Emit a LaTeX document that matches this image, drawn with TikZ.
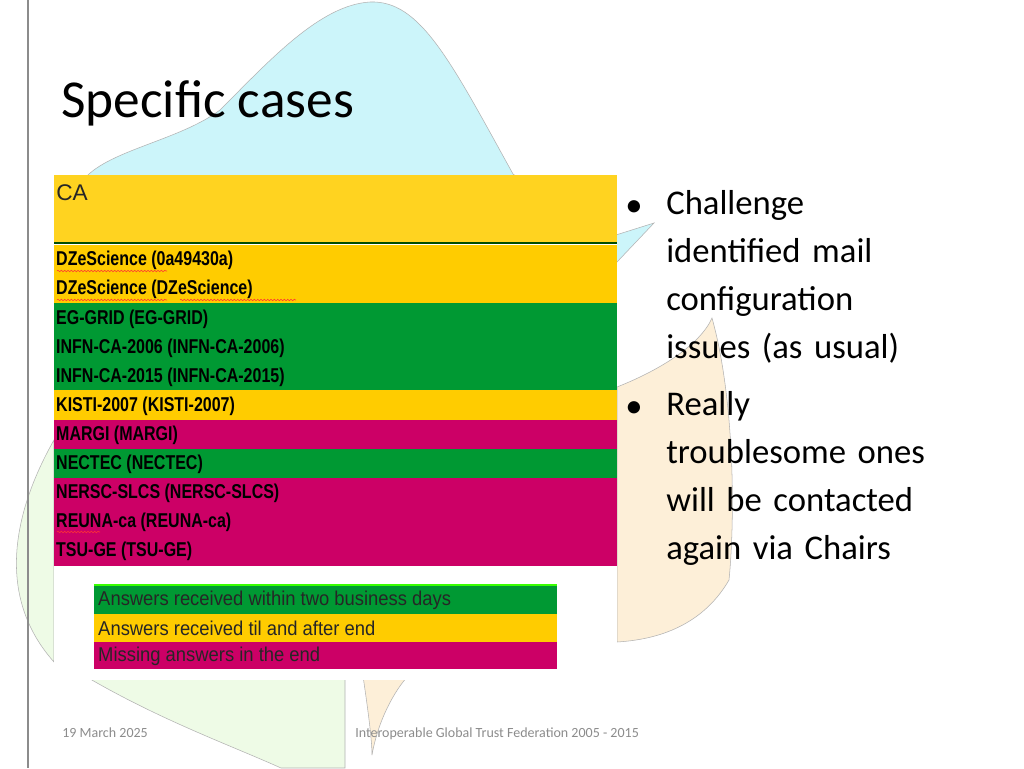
\documentclass[tikz,border=0pt]{standalone}
\usepackage{fontspec}
\setmainfont{Carlito}
\newfontfamily\tabfont{Liberation Sans}
\usetikzlibrary{decorations.pathmorphing}
\definecolor{cy}{HTML}{CCF5FA}
\definecolor{lg}{HTML}{EEFBE6}
\definecolor{bg}{HTML}{FDEFD8}
\definecolor{yel}{HTML}{FFCC00}
\definecolor{hyel}{HTML}{FFD320}
\definecolor{grn}{HTML}{009933}
\definecolor{mag}{HTML}{CC0066}
\definecolor{foot}{HTML}{8C8C8C}
\tikzset{blob/.style={draw=black!30,line width=0.4pt},
 rowtxt/.style={anchor=west,inner sep=0pt,font=\tabfont\bfseries\fontsize{15}{15}\selectfont,xscale=0.8},
 legtxt/.style={anchor=west,inner sep=0pt,font=\tabfont\fontsize{15}{15}\selectfont,xscale=0.92,text=black!85},
 bul/.style={anchor=north west,inner sep=0pt,align=left,text width=330pt,font=\fontsize{26}{36}\selectfont},
 squig/.style={draw=red!80,line width=0.4pt,decorate,decoration={snake,amplitude=0.6pt,segment length=2.5pt}}}
\begin{document}
\begin{tikzpicture}[x=0.75pt,y=-0.75pt]
\useasboundingbox[fill=white] (0,0) rectangle (1024,768);
% background shapes
\path[blob,fill=cy] (85,178) .. controls (110,150) and (180,140) .. (220,110) .. controls (270,60) and (320,5) .. (370,2) .. controls (420,0) and (450,60) .. (513,174) -- (600,240) -- (654,223) -- (617,262) -- (85,262) -- cycle;
\path[blob,fill=lg] (54,440) .. controls (20,500) and (-10,590) .. (54,662) -- cycle;
\path[blob,fill=lg] (85,676) .. controls (160,720) and (230,745) .. (281,768) -- (345,768) -- (345,676) -- cycle;
\path[blob,fill=bg] (617,387) .. controls (660,370) and (700,345) .. (712,318) .. controls (735,400) and (735,520) .. (729,580) .. controls (700,630) and (650,640) .. (617,642) -- cycle;
\path[blob,fill=bg] (363,676) .. controls (368,710) and (372,740) .. (372,755) .. controls (378,720) and (395,690) .. (408,676) -- cycle;
% left rule
\draw[black!45,line width=1pt] (28,0) -- (28,768);
% image
\fill[white] (54,175) rectangle (617,680);
\fill[hyel] (54,175) rectangle (617,243);
\draw[black!70!green,line width=1.2pt] (54,243) -- (617,243);
\fill[yel] (54,245) rectangle (617,303);
\fill[grn] (54,303) rectangle (617,390);
\fill[yel] (54,390) rectangle (617,420);
\fill[mag] (54,420) rectangle (617,449);
\fill[grn] (54,449) rectangle (617,478);
\fill[mag] (54,478) rectangle (617,566);
\node[anchor=west,inner sep=0pt,font=\tabfont\fontsize{17}{17}\selectfont,text=black!85] (ca) at (56,193) {CA};
\node[rowtxt] (r1) at (56,260) {DZeScience (0a49430a)};
\node[rowtxt] (r2) at (56,289) {DZeScience (DZeScience)};
\node[rowtxt] (r3) at (56,319) {EG-GRID (EG-GRID)};
\node[rowtxt] (r4) at (56,348) {INFN-CA-2006 (INFN-CA-2006)};
\node[rowtxt] (r5) at (56,377) {INFN-CA-2015 (INFN-CA-2015)};
\node[rowtxt] (r6) at (56,406) {KISTI-2007 (KISTI-2007)};
\node[rowtxt] (r7) at (56,435) {MARGI (MARGI)};
\node[rowtxt] (r8) at (56,464) {NECTEC (NECTEC)};
\node[rowtxt] (r9) at (56,493) {NERSC-SLCS (NERSC-SLCS)};
\node[rowtxt] (r10) at (56,522) {REUNA-ca (REUNA-ca)};
\node[rowtxt] (r11) at (56,551) {TSU-GE (TSU-GE)};
\draw[squig] (57,271) -- (167,271);
\draw[squig] (57,300) -- (167,300);
\draw[squig] (180,300) -- (296,300);
\draw[squig] (57,532) -- (100,532);
% legend
\fill[grn] (94,585) rectangle (557,614);
\fill[yel] (94,614) rectangle (557,642);
\fill[mag] (94,642) rectangle (557,669);
\draw[green!70!lime,line width=0.8pt] (94,585) -- (557,585);
\node[legtxt] (l1) at (98,600) {Answers received within two business days};
\node[legtxt] (l2) at (98,628) {Answers received til and after end};
\node[legtxt] (l3) at (98,656) {Missing answers in the end};
% title
\node[anchor=base west,inner sep=0pt,font=\fontsize{40}{40}\selectfont] (title) at (61,117) {Specific cases};
% bullets
\node[bul] (b1) at (666,190) {Challenge\\identified mail\\configuration\\issues (as usual)};
\node[bul] (b2) at (666,391) {Really\\troublesome ones\\will be contacted\\again via Chairs};
\node[inner sep=0pt,font=\fontsize{26}{26}\selectfont] (d1) at (634,209) {•};
\node[inner sep=0pt,font=\fontsize{26}{26}\selectfont] (d2) at (634,410) {•};
% footer
\node[anchor=base west,inner sep=0pt,font=\fontsize{10.5}{10.5}\selectfont,text=foot] (date) at (62,737) {19 March 2025};
\node[anchor=base west,inner sep=0pt,font=\fontsize{10.5}{10.5}\selectfont,text=foot] (fed) at (355,737) {Interoperable Global Trust Federation 2005 - 2015};
\end{tikzpicture}
\end{document}
